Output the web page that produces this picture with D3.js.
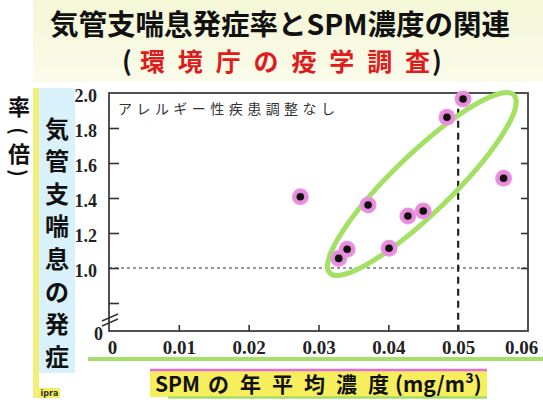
<!DOCTYPE html>
<html><head><meta charset="utf-8">
<script src="https://cdn.jsdelivr.net/npm/d3@7"></script>
<style>html,body{margin:0;padding:0;background:#fff;overflow:hidden}
.tk{font-family:"Liberation Serif","Times New Roman",serif !important;font-weight:bold}</style>
</head><body>
<svg id="c" width="543" height="403"></svg>
<script>
// ---- data ----
const titleText = "気管支喘息発症率とSPM濃度の関連";
const subtitleText = "環境庁の疫学調査";
const yLabelChars = ["気","管","支","喘","息","の","発","症"];
const yUnitChars = ["率","(","倍",")"];
const xLabelTokens = ["SPM","の","年","平","均","濃","度","(mg/m³)"];
const noteText = "アレルギー性疾患調整なし";
const xTicks = [0, 0.01, 0.02, 0.03, 0.04, 0.05, 0.06];
const xTickLabels = ["0", "0.01", "0.02", "0.03", "0.04", "0.05", "0.06"];
const yTicks = [0.8, 1.0, 1.2, 1.4, 1.6, 1.8, 2.0];
const yTickLabels = ["", "1.0", "1.2", "1.4", "1.6", "1.8", "2.0"];
const yZeroLabel = "0";
const spm   = [0.0274, 0.0371, 0.0428, 0.0450, 0.0401, 0.0341, 0.0329, 0.0484, 0.0507, 0.0565];
const ratio = [1.407, 1.360, 1.297, 1.326, 1.113, 1.107, 1.055, 1.861, 1.966, 1.513];
const refX = 0.05, refXTop = 1.91, refY = 1.0;
const ellipseCenter = [0.0448, 1.48];
const breakAt = 0.72;

// ---- drawing ----
const svg = d3.select("#c");
const x = d3.scaleLinear().domain([0, 0.06]).range([109, 528]);
const y = d3.scaleLinear().domain([0.64, 2.0]).range([331, 93]);
const X0 = x.range()[0], X1 = x.range()[1], Y0 = y.range()[0], Y1 = y.range()[1];
const CJK = "'Noto Sans CJK JP','Noto Sans CJK SC',sans-serif";

const defs = svg.append("defs");
const bg = defs.append("linearGradient").attr("id","bg").attr("x1",0).attr("y1",0).attr("x2",0).attr("y2",1);
bg.append("stop").attr("offset","0%").attr("stop-color","#f4f7d6");
bg.append("stop").attr("offset","100%").attr("stop-color","#fafbea");
const halo = defs.append("radialGradient").attr("id","halo");
halo.append("stop").attr("offset","0%").attr("stop-color","#f0a0a8");
halo.append("stop").attr("offset","60%").attr("stop-color","#e688d8");
halo.append("stop").attr("offset","100%").attr("stop-color","#ea98e8");

// title band
svg.append("rect").attr("x",33).attr("y",0).attr("width",510).attr("height",82).attr("fill","url(#bg)");

svg.append("text").attr("x",280).attr("y",35).attr("text-anchor","middle")
  .style("font-family",CJK).attr("font-weight",700).attr("font-size",28.5)
  .attr("fill","#111").text(titleText);
svg.append("text").attr("x",122).attr("y",71).style("font-family",CJK).attr("font-weight",700)
  .attr("font-size",26).attr("fill","#111").text("(");
svg.append("text").attr("x",140).attr("y",71).style("font-family",CJK).attr("font-weight",700)
  .attr("font-size",25).attr("textLength",290).attr("lengthAdjust","spacing").attr("fill","#e01b1b").text(subtitleText);
svg.append("text").attr("x",432).attr("y",71).style("font-family",CJK).attr("font-weight",700)
  .attr("font-size",26).attr("fill","#111").text(")");

// y label box
svg.append("rect").attr("x",33).attr("y",88).attr("width",6).attr("height",310).attr("fill","#f2f07a");
svg.append("rect").attr("x",39).attr("y",88).attr("width",36).attr("height",285).attr("fill","#d9f1fa");
svg.selectAll("text.yl").data(yLabelChars).join("text").attr("class","yl")
  .attr("x",57).attr("y",(d,i)=>127 + i*32.6).attr("text-anchor","middle").attr("dominant-baseline","central")
  .style("font-family",CJK).attr("font-weight",700).attr("font-size",24).attr("fill","#111").text(d=>d);
const unitY = [105, 131, 152, 173];
svg.selectAll("text.yu").data(yUnitChars).join("text").attr("class","yu")
  .attr("transform",(d,i)=>`translate(19,${unitY[i]})` + (d==="("||d===")" ? " rotate(90)" : ""))
  .attr("text-anchor","middle").attr("dominant-baseline","central")
  .style("font-family",CJK).attr("font-weight",700).attr("font-size",(d)=>(d==="("||d===")")?20:22)
  .attr("fill","#111").text(d=>d);
// tiny logo
svg.append("rect").attr("x",39).attr("y",388).attr("width",21).attr("height",10).attr("fill","#f2ee60");
svg.append("text").attr("x",49.5).attr("y",396).attr("text-anchor","middle").style("font-family","'DejaVu Sans',sans-serif")
  .attr("font-weight",700).attr("font-size",8).attr("fill","#333").text("ipra");

// green line under x tick labels
svg.append("line").attr("x1",88).attr("x2",543).attr("y1",359).attr("y2",359)
  .attr("stroke","#a6e06c").attr("stroke-width",4);

// x label box
svg.append("rect").attr("x",150).attr("y",370).attr("width",337).attr("height",27).attr("fill","#f6ee5c");
svg.append("line").attr("x1",150).attr("x2",487).attr("y1",370).attr("y2",370).attr("stroke","#e070d8").attr("stroke-width",2.5);
svg.append("line").attr("x1",168).attr("x2",487).attr("y1",397.5).attr("y2",397.5).attr("stroke","#a6dc66").attr("stroke-width",2.5);
const xl = svg.append("text").attr("x",155).attr("y",392).style("font-family",CJK).attr("font-weight",700)
  .attr("font-size",21).attr("fill","#111");
xl.selectAll("tspan").data(xLabelTokens).join("tspan")
  .attr("dx",(d,i)=> i===0 ? 0 : (i===1 ? 8 : (i===xLabelTokens.length-1 ? 6 : 11)))
  .text(d=>d);

// plot background
svg.append("rect").attr("x",X0).attr("y",Y1).attr("width",X1-X0).attr("height",Y0-Y1).attr("fill","#fff");

// reference dashed lines
svg.append("line").attr("x1",X0).attr("x2",X1).attr("y1",y(refY)).attr("y2",y(refY))
  .attr("stroke","#333").attr("stroke-width",1.2).attr("stroke-dasharray","3,3");
svg.append("line").attr("x1",x(refX)).attr("x2",x(refX)).attr("y1",y(refXTop)).attr("y2",Y0)
  .attr("stroke","#222").attr("stroke-width",2.2).attr("stroke-dasharray","7,5");

// axes (inward ticks)
const axB = svg.append("g").attr("transform",`translate(0,${Y0})`)
  .call(d3.axisBottom(x).tickValues(xTicks).tickSize(-6).tickSizeOuter(0).tickPadding(12)
  .tickFormat((d,i)=>xTickLabels[i]));
const axL = svg.append("g").attr("transform",`translate(${X0},0)`)
  .call(d3.axisLeft(y).tickValues(yTicks).tickSize(-10).tickSizeOuter(0).tickPadding(12)
  .tickFormat((d,i)=>yTickLabels[i]));
const axR = svg.append("g").attr("transform",`translate(${X1},0)`)
  .call(d3.axisRight(y).tickValues(yTicks.slice(1,-1)).tickSize(-7).tickSizeOuter(0).tickFormat(""));
[axB, axL, axR].forEach(g => {
  g.attr("font-family", "Liberation Serif");
  g.select(".domain").remove();
  g.selectAll("line").attr("stroke","#333").attr("stroke-width",1.6);
  g.selectAll("text").attr("class","tk").attr("font-family","Liberation Serif").attr("font-weight","bold").attr("fill","#222");
});
axB.selectAll("text").attr("font-size",19).attr("dy","0.6em");
axB.selectAll(".tick").filter(d=>d===0 || d===0.06).select("line").remove();
axB.selectAll(".tick").filter(d=>d===0.06).select("text").attr("dx",-7);
axB.selectAll(".tick").filter(d=>d===0).select("text").attr("dx",3);
axL.selectAll("text").attr("font-size",18).attr("dy","0.45em");
axL.selectAll(".tick").filter(d=>d===2.0).select("line").remove();
svg.append("text").attr("class","tk").attr("x",103).attr("y",Y0+9).attr("text-anchor","end")
  .attr("font-family","Liberation Serif").attr("font-weight","bold").attr("font-size",18).attr("fill","#222").text(yZeroLabel);

// frame
svg.append("rect").attr("x",X0).attr("y",Y1).attr("width",X1-X0).attr("height",Y0-Y1)
  .attr("fill","none").attr("stroke","#333").attr("stroke-width",1.7);

// axis break
const yb = y(breakAt);
[0, 5].forEach(o => svg.append("line").attr("x1",X0-7).attr("x2",X0+9).attr("y1",yb+4+o).attr("y2",yb-3+o)
  .attr("stroke","#333").attr("stroke-width",1.4));

// note
svg.append("text").attr("x",118).attr("y",114).style("font-family",CJK).attr("font-size",14)
  .attr("textLength",217).attr("lengthAdjust","spacing").attr("fill","#333").text(noteText);

// ellipse annotation
svg.append("ellipse").attr("transform",`translate(${x(ellipseCenter[0])},${y(ellipseCenter[1])}) rotate(-44)`)
  .attr("rx",128).attr("ry",29.5).attr("fill","none").attr("stroke","#a3e064").attr("stroke-width",5);

// points
const pts = spm.map((v,i)=>({x:v, y:ratio[i]}));
svg.selectAll("circle.h").data(pts).join("circle").attr("class","h")
  .attr("cx",d=>x(d.x)).attr("cy",d=>y(d.y)).attr("r",8.5).attr("fill","url(#halo)");
svg.selectAll("circle.p").data(pts).join("circle").attr("class","p")
  .attr("cx",d=>x(d.x)).attr("cy",d=>y(d.y)).attr("r",3.8).attr("fill","#111");
</script>
</body></html>
